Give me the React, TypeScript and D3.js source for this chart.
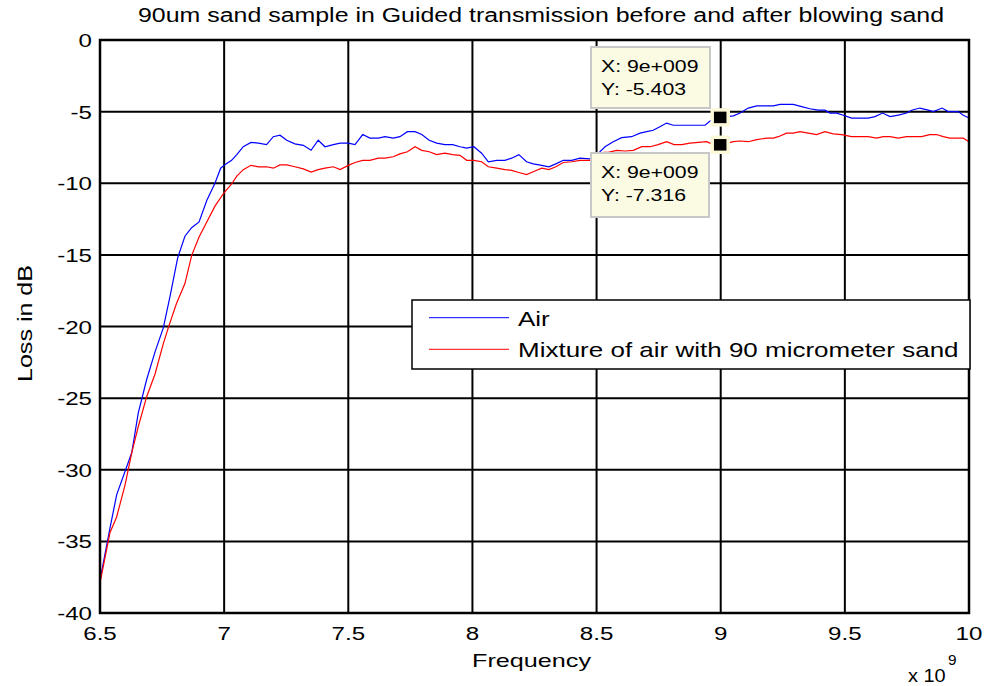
import React from "react";
import * as d3 from "d3";

// Frequency in units of 1e9 Hz, loss in dB
const airFreq = [
  6.5, 6.54, 6.567, 6.628, 6.654, 6.688, 6.722, 6.755, 6.782, 6.813, 6.842, 6.869, 6.899, 6.93, 6.963,
  6.986, 7.003, 7.03, 7.051, 7.077, 7.108, 7.138, 7.171, 7.198, 7.225, 7.252, 7.285, 7.319, 7.35, 7.379,
  7.406, 7.44, 7.467, 7.5, 7.527, 7.558, 7.587, 7.621, 7.648, 7.681, 7.708, 7.738, 7.769, 7.796, 7.826,
  7.856, 7.889, 7.92, 7.95, 7.977, 8.006, 8.037, 8.064, 8.098, 8.131, 8.158, 8.187, 8.218, 8.245, 8.279,
  8.308, 8.336, 8.366, 8.4, 8.433, 8.473, 8.502, 8.534, 8.567, 8.601, 8.641, 8.675, 8.702, 8.728, 8.755,
  8.782, 8.809, 8.843, 8.876, 8.91, 8.937, 8.957, 9.0, 9.051, 9.078, 9.111, 9.145, 9.185, 9.212, 9.239,
  9.292, 9.326, 9.359, 9.393, 9.42, 9.44, 9.467, 9.494, 9.527, 9.561, 9.594, 9.621, 9.652, 9.682, 9.715,
  9.749, 9.769, 9.802, 9.836, 9.856, 9.892, 9.916, 9.957, 9.977, 10.0,
];
const airLoss = [
  -37.7, -34.1, -31.75, -28.8, -26.05, -23.7, -21.75, -20.1, -17.9, -15.2, -13.7, -13.1, -12.7, -11.2, -10.0,
  -8.95, -8.7, -8.4, -8.0, -7.45, -7.15, -7.2, -7.3, -6.75, -6.65, -7.0, -7.25, -7.35, -7.7, -7.0,
  -7.45, -7.3, -7.2, -7.2, -7.3, -6.6, -6.85, -6.85, -6.75, -6.85, -6.75, -6.4, -6.4, -6.6, -7.0,
  -7.2, -7.3, -7.3, -7.45, -7.55, -7.45, -7.9, -8.5, -8.4, -8.4, -8.25, -8.0, -8.5, -8.65, -8.75,
  -8.85, -8.65, -8.4, -8.4, -8.25, -8.3, -8.0, -7.45, -7.1, -6.82, -6.75, -6.5, -6.4, -6.3, -6.05,
  -5.8, -5.95, -5.95, -5.95, -5.95, -5.95, -5.65, -5.403, -5.3, -5.1, -4.75, -4.6, -4.6, -4.6, -4.5,
  -4.5, -4.65, -4.8, -4.9, -4.9, -5.1, -5.1, -5.25, -5.45, -5.45, -5.45, -5.35, -5.1, -5.35, -5.25,
  -5.1, -4.9, -4.75, -4.9, -5.0, -4.75, -5.0, -5.0, -5.25, -5.45,
];

const mixFreq = [
  6.5, 6.54, 6.567, 6.601, 6.628, 6.654, 6.688, 6.722, 6.755, 6.775, 6.808, 6.842, 6.869, 6.899, 6.93,
  6.963, 6.998, 7.03, 7.051, 7.077, 7.108, 7.138, 7.171, 7.198, 7.225, 7.252, 7.285, 7.319, 7.35, 7.379,
  7.406, 7.44, 7.467, 7.5, 7.527, 7.558, 7.587, 7.621, 7.648, 7.681, 7.708, 7.738, 7.769, 7.796, 7.826,
  7.856, 7.889, 7.92, 7.95, 7.977, 8.006, 8.037, 8.064, 8.098, 8.131, 8.158, 8.187, 8.218, 8.245, 8.279,
  8.308, 8.336, 8.366, 8.4, 8.433, 8.473, 8.502, 8.53, 8.547, 8.581, 8.614, 8.648, 8.682, 8.715, 8.748,
  8.782, 8.812, 8.843, 8.876, 8.91, 8.943, 8.957, 9.0, 9.051, 9.078, 9.111, 9.145, 9.185, 9.212, 9.232,
  9.265, 9.292, 9.319, 9.353, 9.386, 9.42, 9.453, 9.487, 9.527, 9.561, 9.594, 9.628, 9.655, 9.682, 9.715,
  9.749, 9.775, 9.809, 9.842, 9.869, 9.896, 9.923, 9.95, 9.977, 10.0,
];
const mixLoss = [
  -37.9, -34.4, -33.3, -31.05, -28.8, -27.0, -24.9, -23.3, -21.2, -20.1, -18.4, -17.0, -15.05, -13.75, -12.7,
  -11.6, -10.7, -10.05, -9.5, -9.05, -8.75, -8.85, -8.85, -8.95, -8.72, -8.72, -8.85, -9.0, -9.22, -9.05,
  -8.95, -8.85, -9.05, -8.75, -8.55, -8.4, -8.4, -8.25, -8.25, -8.15, -7.95, -7.8, -7.45, -7.7, -7.8,
  -8.0, -7.9, -8.0, -8.05, -8.4, -8.4, -8.5, -8.85, -8.95, -9.05, -9.1, -9.25, -9.4, -9.2, -8.95,
  -9.05, -8.85, -8.55, -8.5, -8.4, -8.4, -8.0, -7.85, -7.85, -7.7, -7.75, -7.7, -7.45, -7.45, -7.3,
  -7.1, -7.3, -7.3, -7.2, -7.15, -7.1, -7.2, -7.316, -7.1, -7.05, -7.1, -6.95, -6.85, -6.85, -6.75,
  -6.5, -6.5, -6.4, -6.5, -6.6, -6.4, -6.55, -6.6, -6.75, -6.75, -6.75, -6.85, -6.75, -6.75, -6.85,
  -6.75, -6.75, -6.75, -6.6, -6.6, -6.75, -6.85, -6.85, -6.85, -7.1,
];

const xTicks = [6.5, 7, 7.5, 8, 8.5, 9, 9.5, 10];
const yTicks = [0, -5, -10, -15, -20, -25, -30, -35, -40];
const legendLabels = ["Air", "Mixture of air with 90 micrometer sand"];
const seriesColors = ["#0000ff", "#ff0000"];

// Data tips at 9e9
const tipX = 9.0;
const tipValues = [-5.403, -7.316];

const W = 987;
const H = 686;
const M = { left: 100, right: 969, top: 40, bottom: 613 };
const FONT = "Arial, 'Liberation Sans', Helvetica, sans-serif";
const SX = 1.27;

function SText(props: {
  x: number;
  y: number;
  size: number;
  anchor?: "start" | "middle" | "end";
  sx?: number;
  children: React.ReactNode;
}) {
  const { x, y, size, anchor = "start", sx = SX } = props;
  return (
    <text
      transform={`translate(${x},${y}) scale(${sx},1)`}
      fontSize={size}
      fontFamily={FONT}
      textAnchor={anchor}
      fill="#000"
    >
      {props.children}
    </text>
  );
}

export default function App() {
  const x = d3.scaleLinear().domain([6.5, 10]).range([M.left, M.right]);
  const y = d3.scaleLinear().domain([-40, 0]).range([M.bottom, M.top]);

  const line = d3
    .line<[number, number]>()
    .x((d) => x(d[0]))
    .y((d) => y(d[1]));

  const airPts = airFreq.map((f, i) => [f, airLoss[i]] as [number, number]);
  const mixPts = mixFreq.map((f, i) => [f, mixLoss[i]] as [number, number]);

  const tipBoxes = [
    { x: 591, y: 47, w: 119, h: 61 },
    { x: 591, y: 153, w: 118, h: 64 },
  ];

  return (
    <svg
      width={W}
      height={H}
      style={{ position: "absolute", left: 0, top: 0, background: "#fff" }}
    >
      <rect x={0} y={0} width={W} height={H} fill="#fff" />

      {/* grid */}
      {xTicks.map((t) => (
        <line key={"gx" + t} x1={x(t)} x2={x(t)} y1={M.top} y2={M.bottom} stroke="#000" strokeWidth={2} />
      ))}
      {yTicks.map((t) => (
        <line key={"gy" + t} x1={M.left} x2={M.right} y1={y(t)} y2={y(t)} stroke="#000" strokeWidth={2} />
      ))}

      {/* series */}
      <path d={line(airPts) || ""} fill="none" stroke={seriesColors[0]} strokeWidth={1.2} />
      <path d={line(mixPts) || ""} fill="none" stroke={seriesColors[1]} strokeWidth={1.2} />

      {/* axes box */}
      <rect
        x={M.left}
        y={M.top}
        width={M.right - M.left}
        height={M.bottom - M.top}
        fill="none"
        stroke="#000"
        strokeWidth={2.5}
      />

      {/* tick labels */}
      {yTicks.map((t) => (
        <SText key={"ly" + t} x={M.left - 8} y={y(t) + 7} size={19} anchor="end">
          {String(t)}
        </SText>
      ))}
      {xTicks.map((t) => (
        <SText key={"lx" + t} x={x(t)} y={M.bottom + 27} size={19} anchor="middle">
          {String(t)}
        </SText>
      ))}

      {/* titles */}
      <text
        x={138}
        y={22}
        fontSize={19.5}
        fontFamily={FONT}
        textLength={806}
        lengthAdjust="spacingAndGlyphs"
      >
        90um sand sample in Guided transmission before and after blowing sand
      </text>
      <text
        x={472}
        y={667}
        fontSize={19}
        fontFamily={FONT}
        textLength={119}
        lengthAdjust="spacingAndGlyphs"
      >
        Frequency
      </text>
      <SText x={908} y={682} size={19} sx={1.05}>
        x 10
      </SText>
      <SText x={948} y={665} size={14} sx={1.1}>
        9
      </SText>
      <text
        transform={`translate(32,382) rotate(-90)`}
        fontSize={20}
        fontFamily={FONT}
        textLength={117}
        lengthAdjust="spacingAndGlyphs"
      >
        Loss in dB
      </text>

      {/* legend */}
      <rect x={412} y={300} width={558} height={69} fill="#fff" stroke="#000" strokeWidth={1.5} />
      {legendLabels.map((lab, i) => {
        const ly = i === 0 ? 317.7 : 349.3;
        return (
          <g key={lab}>
            <line x1={429} x2={509} y1={ly} y2={ly} stroke={seriesColors[i]} strokeWidth={1} />
            <SText x={518} y={ly + 8} size={20} sx={1.3}>
              {lab}
            </SText>
          </g>
        );
      })}

      {/* data tip markers */}
      {tipValues.map((v, i) => (
        <rect
          key={"m" + i}
          x={x(tipX) - 8.5}
          y={y(v) - 7.5}
          width={16}
          height={15}
          fill="#000"
          stroke="#fbf7d9"
          strokeWidth={3.5}
        />
      ))}

      {/* data tips */}
      {tipValues.map((v, i) => {
        const b = tipBoxes[i];
        return (
          <g key={"tip" + i}>
            <rect x={b.x} y={b.y} width={b.w} height={b.h} fill="#fbfbe4" stroke="#c8c8c8" strokeWidth={2} />
            <SText x={b.x + 10} y={b.y + 25} size={17} sx={1.25}>
              {"X: 9e+009"}
            </SText>
            <SText x={b.x + 10} y={b.y + 48} size={17} sx={1.25}>
              {"Y: " + v.toFixed(3)}
            </SText>
          </g>
        );
      })}
    </svg>
  );
}
